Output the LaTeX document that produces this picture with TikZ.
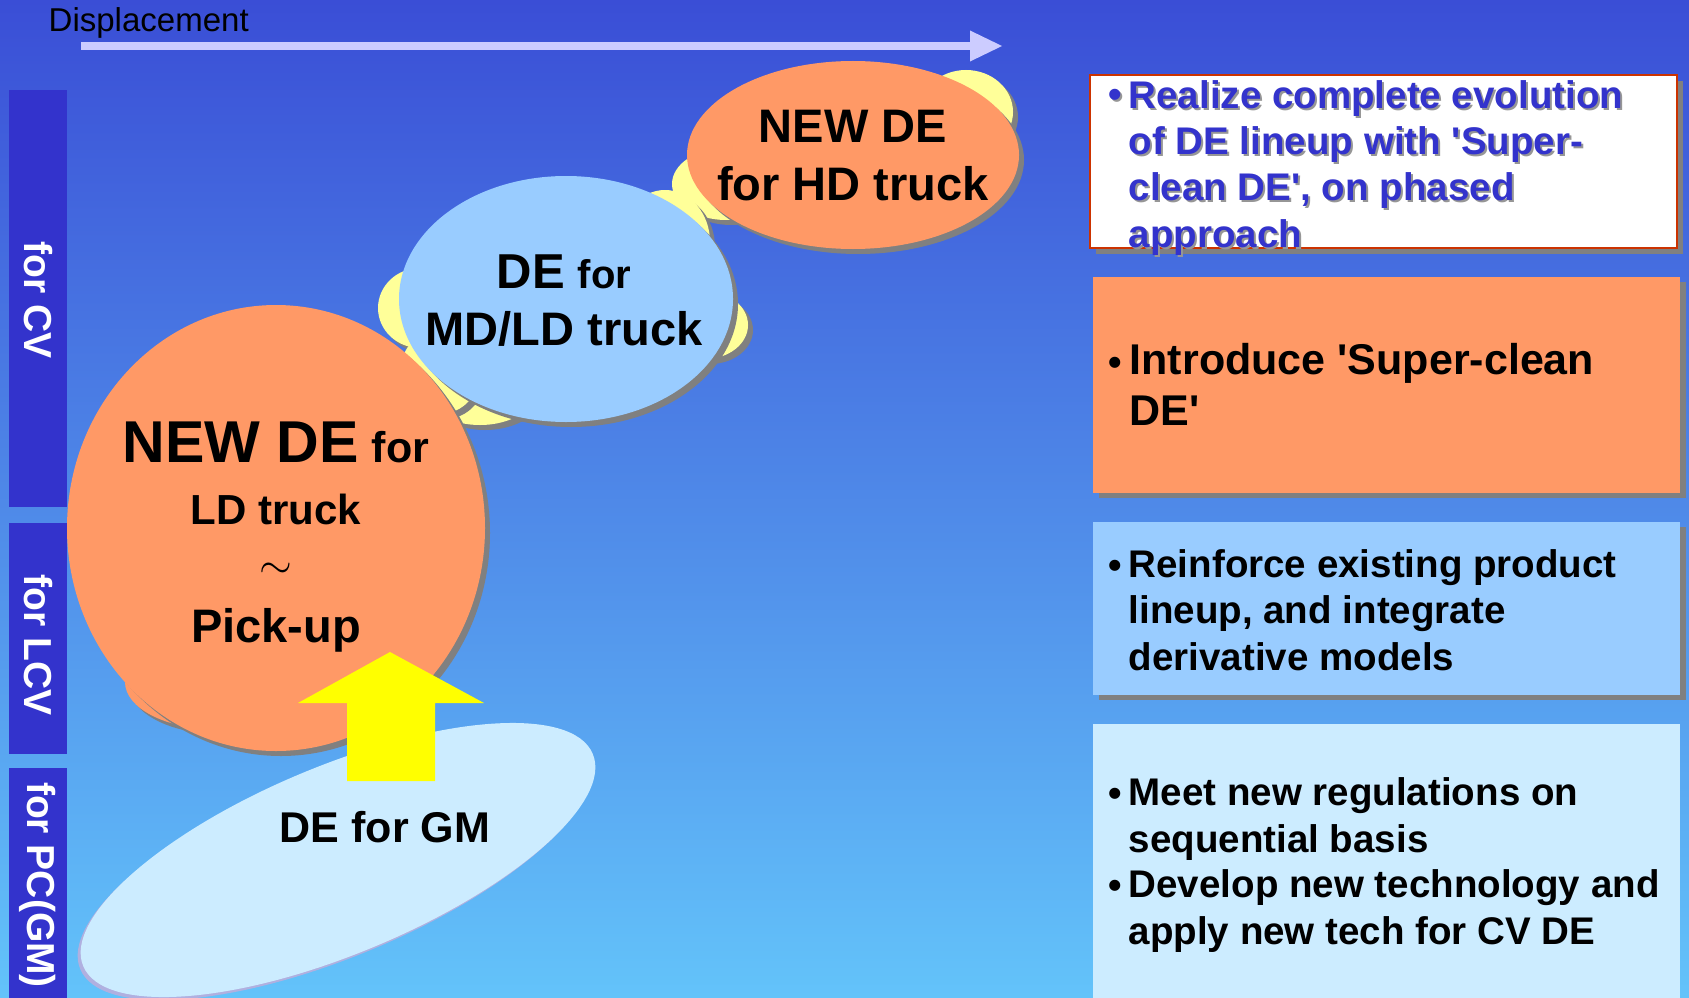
\documentclass[tikz,border=0pt]{standalone}
\usepackage{fontspec}
\newfontfamily\arial{Liberation Sans}
\usetikzlibrary{arrows.meta}

\definecolor{bgtop}{RGB}{58,78,214}
\definecolor{bgbot}{RGB}{99,195,250}
\definecolor{barblue}{RGB}{51,51,204}
\definecolor{arrowlav}{RGB}{204,204,255}
\definecolor{deorange}{RGB}{255,153,102}
\definecolor{deblue}{RGB}{153,204,255}
\definecolor{depale}{RGB}{204,236,255}
\definecolor{cloudyellow}{RGB}{255,255,153}
\definecolor{pushyellow}{RGB}{255,255,0}
\definecolor{shadowgray}{RGB}{128,128,128}
\definecolor{textshadow}{RGB}{150,150,150}
\definecolor{gmshadow}{RGB}{176,176,224}
\definecolor{boxred}{RGB}{204,51,0}
\definecolor{textblue}{RGB}{51,51,204}

\newcommand\pxfont[2]{\fontsize{\fpeval{#1*0.28453}}{\fpeval{#2*0.28453}}\selectfont}
\def\blob[#1](#2,#3)(#4:#5){%
  \fill[shadowgray] (#2+5,#3+5) ellipse [x radius=#4, y radius=#5];
  \fill[#1] (#2,#3) ellipse [x radius=#4, y radius=#5];}

\begin{document}
\begin{tikzpicture}[x=0.01cm, y=-0.01cm,
    every node/.style={inner sep=0pt},
    ellipsetext/.style={anchor=base, font=\arial\bfseries\pxfont{47}{57}},
    bartext/.style={rotate=-90, text=white, font=\arial\bfseries\pxfont{39}{45}},
    boxtext/.style={anchor=base west, align=left, font=\arial\bfseries\pxfont{38.5}{46}},
    bulletmark/.style={anchor=base west, font=\arial\bfseries\pxfont{38.5}{46}}]
	%%%%% START %%%%%
	
	\useasboundingbox (0,0) rectangle (1689,997);
	\clip (0,0) rectangle (1689,997);
	\shade[top color=bgtop, bottom color=bgbot] (0,0) rectangle (1689,997);
	
	\node[anchor=base west, font=\arial\pxfont{33}{40}] (dispLabel) at (48,32) {Displacement};
	\coordinate (dispStart) at (81,46);
	\coordinate (dispEnd) at (1002,46);
	\draw[arrowlav, line width=0.075cm, -{Triangle[length=0.32cm, width=0.31cm, line width=0pt]}] (dispStart) -- (dispEnd);
	
	\fill[barblue] (9,90) rectangle (67,507);
	\fill[barblue] (9,523) rectangle (67,754);
	\fill[barblue] (9,768) rectangle (67,1000);
	\node[bartext] (forCV) at (38,300) {for CV};
	\node[bartext] (forLCV) at (38,645) {for LCV};
	\node[bartext] (forPC) at (38,885) {for PC(GM)};
	
	\blob[cloudyellow](966,112)(47:42)
	\blob[cloudyellow](726,184)(54:36)
	\blob[deorange](853,155)(166:94)
	\node[ellipsetext] (hdA) at (853,143) {NEW DE};
	\node[ellipsetext] (hdB) at (853,200) {for HD truck};
	
	\blob[cloudyellow](665,242)(45:52)
	\blob[cloudyellow](705,325)(43:34)
	\blob[cloudyellow](420,308)(42:40)
	\blob[cloudyellow](480,385)(60:40)
	\blob[cloudyellow](440,372)(40:42)
	\blob[deblue](566,299)(167:123)
	\node[ellipsetext] (mdA) at (564,288) {{\pxfont{49}{57}DE} \pxfont{40}{57}for};
	\node[ellipsetext] (mdB) at (564,345) {MD/LD truck};
	
	\blob[deorange](215,682)(90:47)
	\blob[deorange](276,528)(209:223)
	\node[ellipsetext] (ldA) at (276,462) {{\pxfont{59}{60}NEW DE} \pxfont{43}{50}for};
	\node[ellipsetext] (ldB) at (276,524) {\pxfont{42}{50}LD truck};
	\node[ellipsetext] (ldTilde) at (276,578) {\pxfont{45}{50}$\sim$};
	\node[ellipsetext] (ldC) at (276,642) {\pxfont{47}{50}Pick-up};
	
	\fill[gmshadow] (335,863) ellipse [x radius=276, y radius=94, rotate=22.6];
	\fill[depale] (338,860) ellipse [x radius=276, y radius=94, rotate=22.6];
	\node[ellipsetext, font=\arial\bfseries\pxfont{43}{50}] (gmText) at (385,842) {DE for GM};
	
	\fill[pushyellow] (347,781) -- (347,703) -- (298,703) -- (390,652) -- (484,703) -- (435,703) -- (435,781) -- cycle;
	
	\fill[shadowgray] (1096,81) rectangle (1683,254);
	\filldraw[fill=white, draw=boxred, line width=0.015cm] (1090,75) rectangle (1677,248);
	\node[bulletmark, text=textshadow] (realizeBulShadow) at (1110,110) {•};
	\node[boxtext, text=textshadow] (realizeShadow) at (1130,249) {Realize complete evolution\\of DE lineup with 'Super-\\clean DE', on phased\\approach};
	\node[bulletmark, text=textblue] (realizeBul) at (1108,108) {•};
	\node[boxtext, text=textblue] (realize) at (1128,247) {Realize complete evolution\\of DE lineup with 'Super-\\clean DE', on phased\\approach};
	
	\fill[shadowgray] (1099,282) rectangle (1686,498);
	\fill[deorange] (1093,277) rectangle (1680,493);
	\node[bulletmark] (introBul) at (1108,375) {•};
	\node[boxtext, font=\arial\bfseries\pxfont{43}{50}] (intro) at (1129,425) {Introduce 'Super-clean\\DE'};
	
	\fill[shadowgray] (1099,527) rectangle (1686,700);
	\fill[deblue] (1093,522) rectangle (1680,695);
	\node[bulletmark] (reinforceBul) at (1108,578) {•};
	\node[boxtext] (reinforce) at (1128,670) {Reinforce existing product\\lineup, and integrate\\derivative models};
	
	\fill[depale] (1093,724) rectangle (1680,1000);
	\node[bulletmark] (meetBul) at (1108,806) {•};
	\node[boxtext] (meet) at (1128,852) {Meet new regulations on\\sequential basis};
	\node[bulletmark] (developBul) at (1108,898) {•};
	\node[boxtext] (develop) at (1128,944) {Develop new technology and\\apply new tech for CV DE};
	
	%%%%% END %%%%%
\end{tikzpicture}
\end{document}
